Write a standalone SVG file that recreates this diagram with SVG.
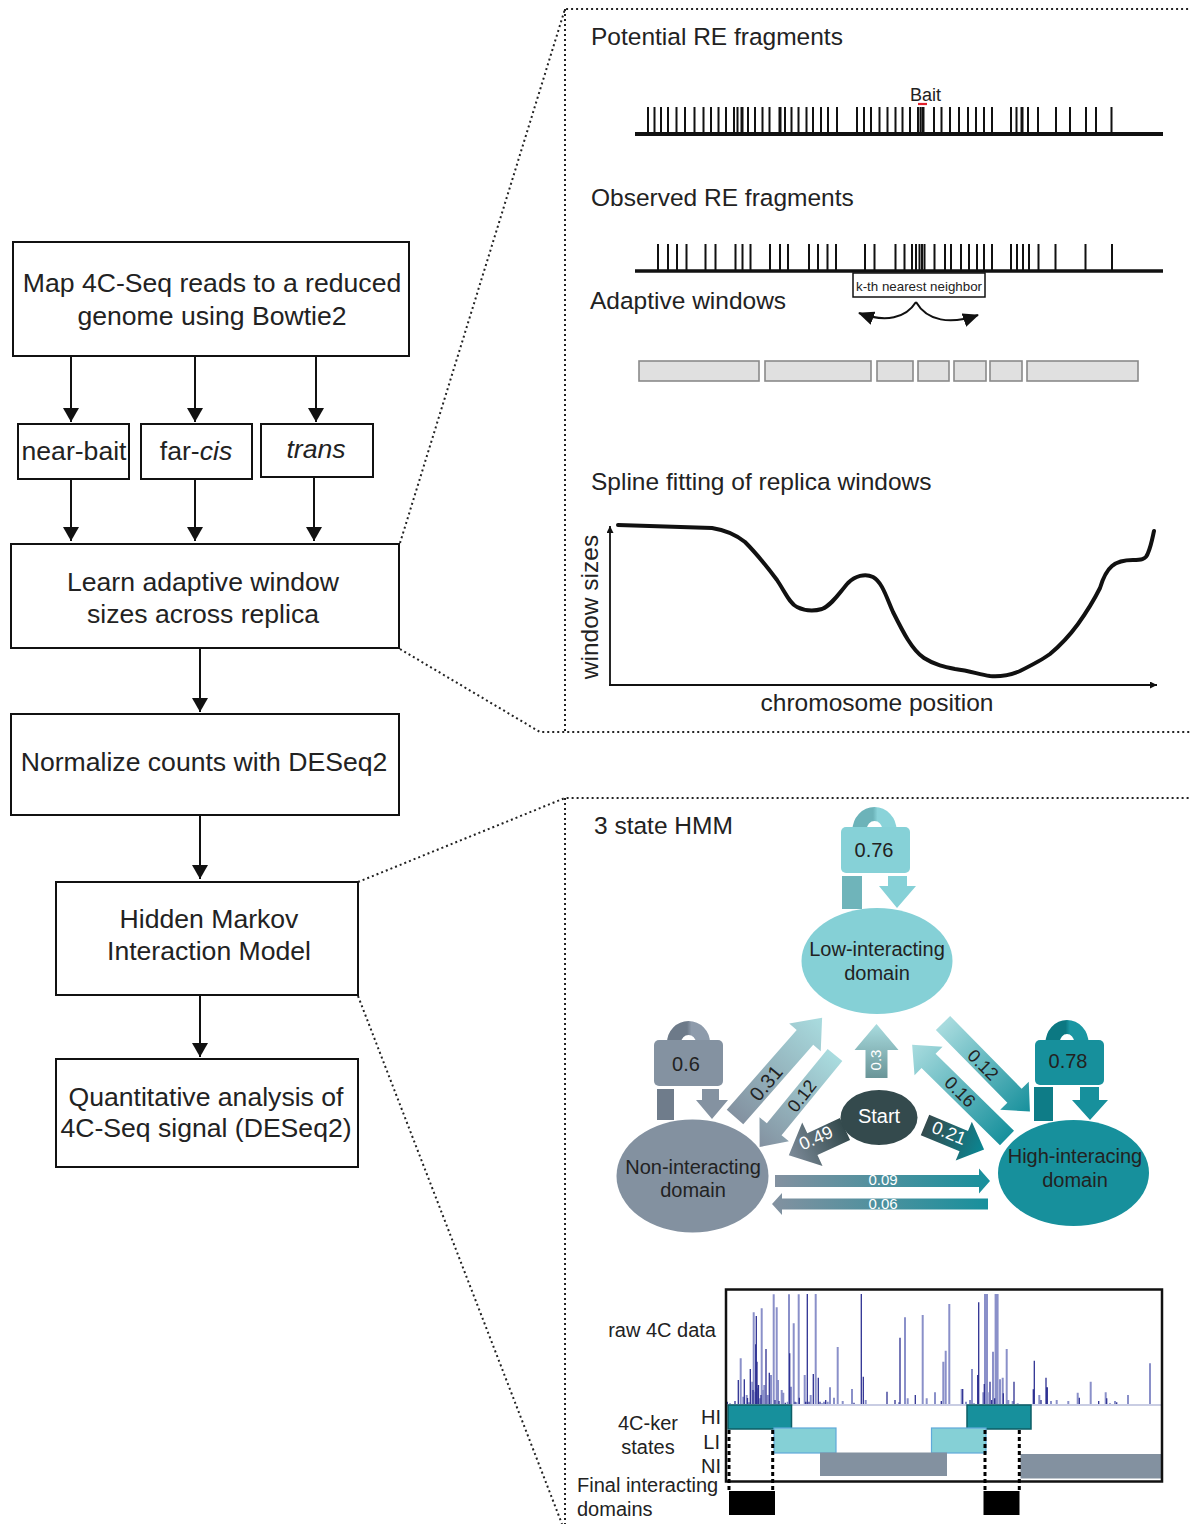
<svg xmlns="http://www.w3.org/2000/svg" width="1191" height="1524" viewBox="0 0 1191 1524">
<style>
text{font-family:"Liberation Sans",Arial,sans-serif;fill:#222}
.box{fill:#fff;stroke:#111;stroke-width:2}
.flow{stroke:#111;stroke-width:2;fill:none;marker-end:url(#ah)}
.dot{stroke:#222;stroke-width:2;stroke-dasharray:2 3;fill:none}
.t26{font-size:26.6px;text-anchor:middle}
.t24{font-size:24.5px}
.t20{font-size:20px;text-anchor:middle}
.lab{font-size:20px}
.w{fill:#fff}
.tick{stroke:#111;stroke-width:2}
.win{fill:#e0e0e0;stroke:#8a8a8a;stroke-width:1.6}
.spl{stroke:#8a90c9;stroke-width:2}
.spd{stroke:#2e3192;stroke-width:1.3}
.dash{stroke:#000;stroke-width:3;stroke-dasharray:4 3;fill:none}
</style>
<defs>
<marker id="ah" viewBox="0 0 14 16" refX="14" refY="8" markerWidth="14" markerHeight="16" markerUnits="userSpaceOnUse" orient="auto"><path d="M0,0 L14,8 L0,16 Z" fill="#111"/></marker>
<marker id="sa" viewBox="0 0 10 10" refX="10" refY="5" markerWidth="7" markerHeight="7" markerUnits="userSpaceOnUse" orient="auto"><path d="M0,0 L10,5 L0,10 Z" fill="#111"/></marker>
<marker id="ca" viewBox="0 0 16 14" refX="15" refY="7" markerWidth="16" markerHeight="14" markerUnits="userSpaceOnUse" orient="auto"><path d="M0,0 L16,7 L0,14 Z" fill="#111"/></marker>
<linearGradient id="gA" x1="0" y1="0" x2="1" y2="0"><stop offset="0" stop-color="#8391a0"/><stop offset="1" stop-color="#a9dcdf"/></linearGradient>
<linearGradient id="gB" x1="0" y1="0" x2="1" y2="0"><stop offset="0" stop-color="#a9dcdf"/><stop offset="1" stop-color="#8391a0"/></linearGradient>
<linearGradient id="gC" x1="0" y1="0" x2="1" y2="0"><stop offset="0" stop-color="#344a4d"/><stop offset="1" stop-color="#7d8b99"/></linearGradient>
<linearGradient id="gD" x1="0" y1="0" x2="1" y2="0"><stop offset="0" stop-color="#344a4d"/><stop offset="1" stop-color="#0a8793"/></linearGradient>
<linearGradient id="gE" x1="0" y1="0" x2="1" y2="0"><stop offset="0" stop-color="#a9dcdf"/><stop offset="1" stop-color="#17909c"/></linearGradient>
<linearGradient id="gF" x1="0" y1="0" x2="1" y2="0"><stop offset="0" stop-color="#17909c"/><stop offset="1" stop-color="#a9dcdf"/></linearGradient>
<linearGradient id="gG" x1="0" y1="0" x2="1" y2="0"><stop offset="0" stop-color="#6a9598"/><stop offset="1" stop-color="#a9dcdf"/></linearGradient>
<linearGradient id="gH" x1="0" y1="0" x2="1" y2="0"><stop offset="0" stop-color="#8391a0"/><stop offset="1" stop-color="#17909c"/></linearGradient>
<linearGradient id="gI" x1="0" y1="0" x2="1" y2="0"><stop offset="0" stop-color="#17909c"/><stop offset="1" stop-color="#8391a0"/></linearGradient>
<linearGradient id="lLow" x1="0" y1="0" x2="1" y2="0"><stop offset="0.45" stop-color="#6cb3b9"/><stop offset="0.6" stop-color="#8ad3d9"/></linearGradient>
<linearGradient id="lNon" x1="0" y1="0" x2="1" y2="0"><stop offset="0.45" stop-color="#6d7a89"/><stop offset="0.6" stop-color="#8e9bab"/></linearGradient>
<linearGradient id="lHigh" x1="0" y1="0" x2="1" y2="0"><stop offset="0.45" stop-color="#0c7882"/><stop offset="0.6" stop-color="#1a97a3"/></linearGradient>
</defs>
<rect width="1191" height="1524" fill="#fff"/>

<!-- Left flowchart nodes -->
<g id="map">
<rect class="box" x="13" y="242" width="396" height="114"/>
<text class="t26" x="212" y="292">Map 4C-Seq reads to a reduced</text>
<text class="t26" x="212" y="325">genome using Bowtie2</text>
</g>
<g id="nearbait">
<rect class="box" x="18" y="424" width="111" height="55"/>
<text class="t26" x="74" y="460">near-bait</text>
</g>
<g id="farcis">
<rect class="box" x="141" y="424" width="111" height="55"/>
<text class="t26" x="196" y="460">far-<tspan font-style="italic">cis</tspan></text>
</g>
<g id="trans">
<rect class="box" x="261" y="424" width="112" height="53"/>
<text class="t26" x="316" y="458" font-style="italic">trans</text>
</g>
<g id="learn">
<rect class="box" x="11" y="544" width="388" height="104"/>
<text class="t26" x="203" y="591">Learn adaptive window</text>
<text class="t26" x="203" y="623">sizes across replica</text>
</g>
<g id="normalize">
<rect class="box" x="11" y="714" width="388" height="101"/>
<text class="t26" x="204" y="771">Normalize counts with DESeq2</text>
</g>
<g id="hmm">
<rect class="box" x="56" y="882" width="302" height="113"/>
<text class="t26" x="209" y="928">Hidden Markov</text>
<text class="t26" x="209" y="960">Interaction Model</text>
</g>
<g id="quant">
<rect class="box" x="56" y="1059" width="302" height="108"/>
<text class="t26" x="206" y="1106">Quantitative analysis of</text>
<text class="t26" x="206" y="1137">4C-Seq signal (DESeq2)</text>
</g>

<!-- Connectors -->
<g id="connectors">
<path class="flow" d="M71,357 V422"/>
<path class="flow" d="M195,357 V422"/>
<path class="flow" d="M316,357 V422"/>
<path class="flow" d="M71,479 V541"/>
<path class="flow" d="M195,479 V541"/>
<path class="flow" d="M314,478 V541"/>
<path class="flow" d="M200,649 V712"/>
<path class="flow" d="M200,816 V879"/>
<path class="flow" d="M200,996 V1057"/>
</g>

<!-- Zoom callout dotted lines -->
<g id="callouts">
<path class="dot" d="M400,543 L565,9 H1191"/>
<path class="dot" d="M565,9 V732"/>
<path class="dot" d="M400,649 L540,732 H1191"/>
<path class="dot" d="M358,882 L565,798 H1191"/>
<path class="dot" d="M565,798 V1524"/>
<path class="dot" d="M358,996 L562,1524"/>
</g>

<!-- Top panel: RE fragments -->
<g id="potential">
<text class="t24" x="591" y="45">Potential RE fragments</text>
<text x="910" y="101" font-size="18">Bait</text>
<path d="M918,104 H927" stroke="#e0202a" stroke-width="2.2"/>
<path class="tick" d="M648,107V134M654.5,107V134M661,107V134M668,107V134M676.5,107V134M685,107V134M694.5,107V134M703.5,107V134M711,107V134M718.5,107V134M726,107V134M734,107V134M737.5,107V134M748,107V134M755,107V134M762.5,107V134M769.5,107V134M785,107V134M791.5,107V134M798.5,107V134M806.5,107V134M813,107V134M821,107V134M828,107V134M837,107V134M857,107V134M864,107V134M871,107V134M879.5,107V134M887.5,107V134M895.5,107V134M902.5,107V134M910,107V134M918,107V134M920.5,107V134M934,107V134M941.5,107V134M950,107V134M959,107V134M968,107V134M976,107V134M984,107V134M992,107V134M1011,107V134M1016.5,107V134M1028,107V134M1038,107V134M1056,107V134M1070,107V134M1086,107V134M1096,107V134M1111.5,107V134"/>
<path d="M742,107V134M780,107V134M923,107V134M1022,107V134" stroke="#111" stroke-width="3"/>
<path d="M635,134 H1163" stroke="#111" stroke-width="4"/>
</g>
<g id="observed">
<text class="t24" x="591" y="206">Observed RE fragments</text>
<path class="tick" d="M658,244V271M668,244V271M677,244V271M686.5,244V271M705.5,244V271M715.5,244V271M735.5,244V271M742.5,244V271M750.5,244V271M770,244V271M780,244V271M788,244V271M809,244V271M818,244V271M827.5,244V271M836,244V271M865,244V271M874.5,244V271M895.5,244V271M904.5,244V271M912,244V271M916,244V271M919.5,244V271M922,244V271M924.5,244V271M934.5,244V271M945,244V271M951,244V271M961,244V271M969,244V271M977,244V271M984,244V271M992,244V271M1011,244V271M1017,244V271M1023,244V271M1029,244V271M1038.5,244V271M1055.5,244V271M1085.5,244V271M1112,244V271"/>
<path d="M635,271 H1163" stroke="#111" stroke-width="3.5"/>
</g>
<g id="adaptive">
<text class="t24" x="590" y="309">Adaptive windows</text>
<rect x="853" y="273" width="132" height="24" fill="#fff" stroke="#111" stroke-width="1.5"/>
<text x="919" y="291" font-size="13" text-anchor="middle" textLength="126" lengthAdjust="spacingAndGlyphs">k-th nearest neighbor</text>
<path d="M916,302 C906,318 886,323 859,313" fill="none" stroke="#111" stroke-width="2" marker-end="url(#ca)"/>
<path d="M916,302 C927,321 950,325 978,315" fill="none" stroke="#111" stroke-width="2" marker-end="url(#ca)"/>
<rect class="win" x="639" y="361" width="120" height="20"/>
<rect class="win" x="765" y="361" width="106" height="20"/>
<rect class="win" x="877" y="361" width="36" height="20"/>
<rect class="win" x="918" y="361" width="31" height="20"/>
<rect class="win" x="954" y="361" width="32" height="20"/>
<rect class="win" x="990" y="361" width="32" height="20"/>
<rect class="win" x="1027" y="361" width="111" height="20"/>
</g>
<g id="spline">
<text class="t24" x="591" y="490">Spline fitting of replica windows</text>
<path d="M610,686 V526" stroke="#111" stroke-width="1.8" marker-end="url(#sa)"/>
<path d="M609,685 H1157" stroke="#111" stroke-width="1.8" marker-end="url(#sa)"/>
<path d="M618,525 L712,528 C725,530 735,534 745,542 C755,552 768,568 777,580 C785,592 790,604 797,607 C805,611 815,611 822,609 C832,605 840,592 848,583 C855,576 865,573 873,577 C882,582 886,596 893,612 C903,632 912,650 924,658 C935,665 945,667 955,669 C970,671 978,674 990,676 C1000,677 1010,675 1020,671 C1032,665 1042,660 1050,654 C1062,644 1070,635 1078,624 C1088,610 1095,598 1100,588 C1103,578 1106,571 1112,566 C1118,561 1125,560 1133,560 C1140,560 1146,560 1148,553 C1151,546 1152,540 1154,531" fill="none" stroke="#111" stroke-width="4" stroke-linejoin="round" stroke-linecap="round"/>
<text class="t24" x="0" y="0" text-anchor="middle" font-size="25.5" transform="translate(598,607) rotate(-90)">window sizes</text>
<text class="t24" x="877" y="711" text-anchor="middle">chromosome position</text>
</g>

<!-- HMM panel -->
<text class="t24" x="594" y="834">3 state HMM</text>
<g id="hmm-arrows">
<g transform="translate(735,1117) rotate(-48.7)"><polygon points="0,-11 106,-11 106,-21 132,0 106,21 106,11 0,11" fill="url(#gA)"/></g>
<g transform="translate(835,1055) rotate(129.3)"><polygon points="0,-9.5 96,-9.5 96,-19 119,0 96,19 96,9.5 0,9.5" fill="url(#gB)"/></g>
<g transform="translate(845,1129) rotate(155)"><polygon points="0,-12 36,-12 36,-24 62,0 36,24 36,12 0,12" fill="url(#gC)"/></g>
<g transform="translate(925,1125) rotate(22.6)"><polygon points="0,-11 42,-11 42,-21 64,0 42,21 42,11 0,11" fill="url(#gD)"/></g>
<g transform="translate(943,1023) rotate(45.5)"><polygon points="0,-10 102,-10 102,-20 124,0 102,20 102,10 0,10" fill="url(#gE)"/></g>
<g transform="translate(1007,1138) rotate(-135.5)"><polygon points="0,-10 110,-10 110,-20 133,0 110,20 110,10 0,10" fill="url(#gF)"/></g>
<g transform="translate(876.5,1078) rotate(-90)"><polygon points="0,-11 28,-11 28,-22 54,0 28,22 28,11 0,11" fill="url(#gG)"/></g>
<g transform="translate(775,1181)"><polygon points="0,-6 204,-6 204,-12.5 215,0 204,12.5 204,6 0,6" fill="url(#gH)"/></g>
<g transform="translate(988,1204) rotate(180)"><polygon points="0,-5.5 206,-5.5 206,-11 216,0 206,11 206,5.5 0,5.5" fill="url(#gI)"/></g>
<text x="0" y="7" font-size="20" text-anchor="middle" transform="translate(766,1083) rotate(-50)">0.31</text>
<text x="0" y="6" font-size="18" text-anchor="middle" transform="translate(802,1096) rotate(-52)">0.12</text>
<text class="w" x="0" y="6" font-size="18" text-anchor="middle" transform="translate(816,1138) rotate(-24)">0.49</text>
<text class="w" x="0" y="6" font-size="18" text-anchor="middle" transform="translate(949,1133) rotate(22)">0.21</text>
<text x="0" y="6" font-size="18" text-anchor="middle" transform="translate(983,1065) rotate(45)">0.12</text>
<text x="0" y="6" font-size="18" text-anchor="middle" transform="translate(960,1092) rotate(45)">0.16</text>
<text class="w" x="0" y="5" font-size="15" text-anchor="middle" transform="translate(876,1060) rotate(-90)">0.3</text>
<text class="w" x="883" y="1185" font-size="15" text-anchor="middle">0.09</text>
<text class="w" x="883" y="1209" font-size="15" text-anchor="middle">0.06</text>
</g>
<g id="low">
<path d="M859.5,830 A15,16 0 0 1 889.5,830" fill="none" stroke="url(#lLow)" stroke-width="14"/>
<rect x="841" y="827" width="69" height="46" rx="5" fill="#86d1d7"/>
<text class="t20" x="874" y="857">0.76</text>
<rect x="842" y="876" width="20" height="33" fill="#6fb4ba"/>
<polygon points="888,876 907,876 907,886 916,886 897,908 879,886 888,886" fill="#86d1d7"/>
<ellipse cx="877" cy="961" rx="75.5" ry="53" fill="#85d0d6"/>
<text class="t20" x="877" y="956">Low-interacting</text>
<text class="t20" x="877" y="980">domain</text>
</g>
<g id="non">
<path d="M674,1043 A14.5,15 0 0 1 703,1043" fill="none" stroke="url(#lNon)" stroke-width="14"/>
<rect x="654" y="1040" width="69" height="46" rx="5" fill="#8492a1"/>
<text class="t20" x="686" y="1071">0.6</text>
<rect x="657" y="1089" width="17" height="31" fill="#6f7c8b"/>
<polygon points="702,1089 719,1089 719,1100 728,1100 712,1119 696,1100 702,1100" fill="#8492a1"/>
<ellipse cx="692.5" cy="1176" rx="76" ry="56.5" fill="#8391a0"/>
<text class="t20" x="693" y="1174">Non-interacting</text>
<text class="t20" x="693" y="1197">domain</text>
</g>
<g id="high">
<path d="M1052.5,1043 A14.5,16 0 0 1 1081.5,1043" fill="none" stroke="url(#lHigh)" stroke-width="14"/>
<rect x="1035" y="1040" width="69" height="45" rx="5" fill="#17909c"/>
<text class="t20" x="1068" y="1068">0.78</text>
<rect x="1034" y="1087" width="19" height="34" fill="#0e7c87"/>
<polygon points="1080,1087 1099,1087 1099,1100 1108,1100 1090,1120 1072,1100 1080,1100" fill="#17909c"/>
<ellipse cx="1073.5" cy="1173" rx="75.5" ry="53" fill="#17909c"/>
<text class="t20" x="1075" y="1163">High-interacing</text>
<text class="t20" x="1075" y="1187">domain</text>
</g>
<g id="start">
<ellipse cx="879" cy="1117.5" rx="38.5" ry="27.5" fill="#344a4d"/>
<text class="t20 w" x="879" y="1123">Start</text>
</g>

<!-- Bottom panel: tracks -->
<g id="tracks">
<text class="lab" x="716" y="1337" text-anchor="end">raw 4C data</text>
<text class="lab" x="648" y="1430" text-anchor="middle">4C-ker</text>
<text class="lab" x="648" y="1454" text-anchor="middle">states</text>
<text class="lab" x="721" y="1424" text-anchor="end">HI</text>
<text class="lab" x="720" y="1449" text-anchor="end">LI</text>
<text class="lab" x="721" y="1473" text-anchor="end">NI</text>
<text class="lab" x="577" y="1492">Final interacting</text>
<text class="lab" x="577" y="1516">domains</text>
<path class="spl" d="M730,1404V1403.3M740.7,1404V1358.3M743.3,1404V1396.7M746.7,1404V1395M749,1404V1402.3M752.3,1404V1381.7M753.7,1404V1312.3M754.7,1404V1391.7M758,1404V1388.3M760,1404V1398.3M761.7,1404V1308.3M762.7,1404V1390M764.3,1404V1385M767.7,1404V1395M771,1404V1375M773.7,1404V1294.3M776.7,1404V1307.3M778,1404V1380M781.7,1404V1390M783.3,1404V1392.7M787.7,1404V1401.7M789,1404V1294.3M791,1404V1386.7M793.7,1404V1323.3M796.3,1404V1402.3M798.7,1404V1294.3M804.7,1404V1375M810.7,1404V1395M815.7,1404V1294M822,1404V1403.3M824,1404V1401.7M827.7,1404V1401.7M830,1404V1387.3M834,1404V1397.7M837.7,1404V1347M842.7,1404V1401M852,1404V1389M865.7,1404V1400M899,1404V1402.3M905,1404V1317.3M907.7,1404V1398.3M922.7,1404V1315M926.7,1404V1398.3M935,1404V1392.3M943.3,1404V1361.7M945.7,1404V1350.7M949.3,1404V1304M961.7,1404V1389M966,1404V1401.7M970,1404V1400M972,1404V1369M974,1404V1403.3M983.3,1404V1392.3M987.7,1404V1392.3M993,1404V1351.7M1000,1404V1379.3M1002.7,1404V1377.7M1006.7,1404V1349M1008.3,1404V1400M1012.7,1404V1401M1017.7,1404V1403.3M1039.3,1404V1395M1051,1404V1401M1056.7,1404V1400M1068.3,1404V1401M1077.7,1404V1392.7M1090.7,1404V1381.7M1105.7,1404V1392.3M1110,1404V1403.3M1115,1404V1401M1128,1404V1395M1150,1404V1363.3"/>
<path d="M986,1404V1294M996.6,1404V1294" stroke="#8a90c9" stroke-width="4"/>
<path class="spd" d="M727.3,1404V1401.7M735,1404V1401M738.3,1404V1380M744.3,1404V1379.3M747.5,1404V1398M750.3,1404V1369M753,1404V1390M755.7,1404V1344.3M756.3,1404V1316M757,1404V1361.7M758.5,1404V1385M761,1404V1395M766,1404V1349M769.3,1404V1372.7M775,1404V1400M779,1404V1401M785.3,1404V1402.7M789.7,1404V1353.3M795,1404V1401.7M799.3,1404V1397.7M805.7,1404V1401.7M807.3,1404V1294M809,1404V1401.7M813.3,1404V1374M818.3,1404V1377.7M820,1404V1401.7M825.7,1404V1400M854,1404V1402.7M861.3,1404V1294M863.3,1404V1376.7M887,1404V1391.7M895,1404V1400M900,1404V1337.7M915.3,1404V1395M941.3,1404V1401M962.7,1404V1389M977.7,1404V1375M978.7,1404V1302.3M984.3,1404V1384M990,1404V1381.7M991.7,1404V1400M994.7,1404V1398.3M1003.3,1404V1393.3M1014,1404V1381.7M1033.3,1404V1389.3M1034.3,1404V1360.7M1041,1404V1400M1046,1404V1377.7M1047.3,1404V1387.3M1079.3,1404V1397.7M1098.7,1404V1401M1106.7,1404V1398.3M1116.7,1404V1402.3"/>
<path d="M727,1405 H1161" stroke="#c9cde3" stroke-width="2"/>
<rect x="728" y="1405" width="63.5" height="24" fill="#17909c" stroke="#0d5e66" stroke-width="1.5"/>
<rect x="967" y="1405" width="64" height="24" fill="#17909c" stroke="#0d5e66" stroke-width="1.5"/>
<rect x="774" y="1428" width="62" height="25" fill="#85d0d6" stroke="#5fa9d9" stroke-width="1.2"/>
<rect x="931.5" y="1428" width="54.5" height="25" fill="#85d0d6" stroke="#5fa9d9" stroke-width="1.2"/>
<rect x="820" y="1452.5" width="127" height="23.5" fill="#8391a0"/>
<rect x="1020.5" y="1454" width="141.5" height="24.5" fill="#8391a0"/>
<rect x="726" y="1289.5" width="436" height="192" fill="none" stroke="#111" stroke-width="2.5"/>
<path class="dash" d="M729,1430 V1490 M772.7,1430 V1490 M985,1430 V1490 M1019.3,1430 V1490"/>
<rect x="729" y="1491" width="46" height="24" fill="#000"/>
<rect x="983.5" y="1491" width="36" height="24" fill="#000"/>
</g>
</svg>
